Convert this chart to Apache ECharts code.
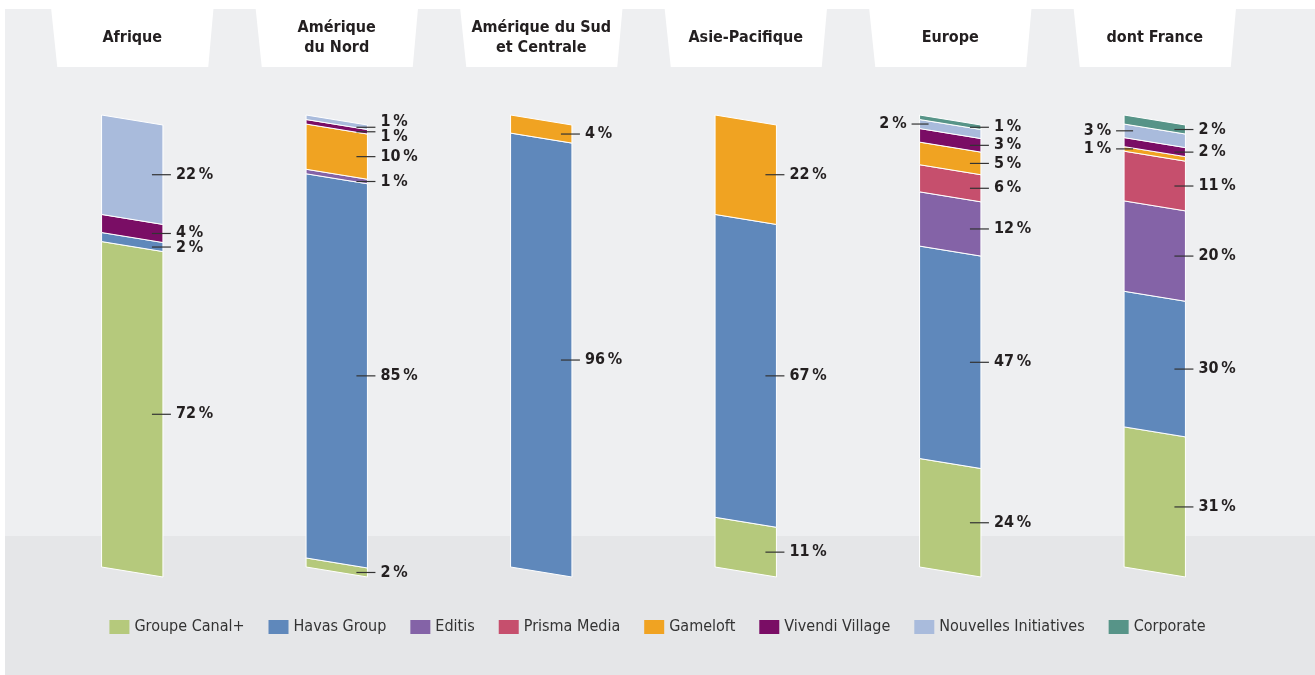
<!DOCTYPE html>
<html style="width:100%;height:100%">
<head>
    <meta charset="UTF-8">
    <title>Vivendi par zone</title>
    <script type="text/javascript" src="https://cdn.jsdelivr.net/npm/echarts@6/dist/echarts.min.js"></script>
</head>
<body style="margin:0;width:100%;height:100%;overflow:hidden">
    <div id="chart" style="width:1315px;height:675px"></div>

    <script type="text/javascript">
        // zones (columns)
        var zones = ['Afrique', 'Amérique\ndu Nord', 'Amérique du Sud\net Centrale', 'Asie-Pacifique', 'Europe', 'dont France'];

        // share of each business per zone, in %, stacked bottom -> top
        var canal = [72, 2, 0, 11, 24, 31];
        var havas = [2, 85, 96, 67, 47, 30];
        var editis = [0, 1, 0, 0, 12, 20];
        var prisma = [0, 0, 0, 0, 6, 11];
        var gameloft = [0, 10, 4, 22, 5, 1];
        var vivendiVillage = [4, 1, 0, 0, 3, 2];
        var nouvelles = [22, 1, 0, 0, 2, 3];
        var corporate = [0, 0, 0, 0, 1, 2];

        var names = ['Groupe Canal+', 'Havas Group', 'Editis', 'Prisma Media', 'Gameloft', 'Vivendi Village', 'Nouvelles Initiatives', 'Corporate'];
        var values = [canal, havas, editis, prisma, gameloft, vivendiVillage, nouvelles, corporate];
        var colors = ['#b5c97c', '#5f88bb', '#8463a7', '#c64f6d', '#f0a322', '#7a0d65', '#a9bbdc', '#579488'];

        // labels drawn on the left side of the column: [zone index, series index]
        var leftLabels = [[4, 6], [5, 6], [5, 4]];

        var W = 1315, H = 675;
        var gridLeft = 30, gridRight = 58, gridTop = 115, gridBottom = 108;
        var band = (W - gridLeft - gridRight) / zones.length;
        var skew = 10;
        var font = "'Liberation Sans Narrow', 'DejaVu Sans Condensed', 'Roboto Condensed', Roboto, sans-serif";

        function isLeft(z, s) {
            for (var i = 0; i < leftLabels.length; i++) {
                if (leftLabels[i][0] === z && leftLabels[i][1] === s) return true;
            }
            return false;
        }

        // stacked segments per series
        var segData = values.map(function (arr) {
            return arr.map(function (v, z) {
                var start = 0;
                for (var k = 0; values[k] !== arr; k++) start += values[k][z];
                return [z, start, start + v, v];
            });
        });

        function renderSegment(params, api) {
            var v = api.value(3);
            if (!v) return;
            var z = api.value(0);
            var top = api.coord([z, api.value(2)]);
            var bot = api.coord([z, api.value(1)]);
            var w = api.size([1, 0])[0] * 0.3;
            var L = top[0] - w / 2, R = top[0] + w / 2;
            return {
                type: 'polygon',
                shape: { points: [[L, top[1]], [R, top[1] + skew], [R, bot[1] + skew], [L, bot[1]]] },
                style: { fill: api.visual('color'), stroke: '#ffffff', lineWidth: 1 }
            };
        }

        function spread(list) {
            list.sort(function (a, b) { return a.y - b.y; });
            var gap = 15;
            for (var it = 0; it < 30; it++) {
                for (var i = 1; i < list.length; i++) {
                    var d = list[i].ty - list[i - 1].ty;
                    if (d < gap) {
                        var sh = (gap - d) / 2;
                        list[i - 1].ty -= sh;
                        list[i].ty += sh;
                    }
                }
            }
        }

        function renderLabels(params, api) {
            var z = api.value(0);
            var w = api.size([1, 0])[0] * 0.3;
            var cx = api.coord([z, 0])[0];
            var L = cx - w / 2, R = cx + w / 2;
            var right = [], left = [];
            var start = 0;
            values.forEach(function (arr, s) {
                var v = arr[z];
                if (!v) return;
                var y0 = api.coord([z, start])[1];
                var y1 = api.coord([z, start + v])[1];
                start += v;
                var item = { text: v + '\u2009%', y: (y0 + y1) / 2 };
                if (isLeft(z, s)) {
                    left.push(item);
                } else {
                    item.y += skew;
                    right.push(item);
                }
                item.ty = item.y;
            });
            spread(right);
            spread(left);
            var children = [];
            var lineStyle = { stroke: '#333333', lineWidth: 1.2 };
            var textStyle = function (t, x, y, align) {
                return {
                    text: t, x: x, y: y, align: align, verticalAlign: 'middle',
                    fill: '#231f20', fontSize: 16, fontWeight: 'bold', fontFamily: font
                };
            };
            right.forEach(function (it) {
                children.push({ type: 'line', shape: { x1: R - 11, y1: it.y, x2: R + 8, y2: it.y }, style: lineStyle });
                children.push({ type: 'text', style: textStyle(it.text, R + 13, it.ty, 'left') });
            });
            left.forEach(function (it) {
                children.push({ type: 'line', shape: { x1: L + 9, y1: it.y, x2: L - 8, y2: it.y }, style: lineStyle });
                children.push({ type: 'text', style: textStyle(it.text, L - 13, it.ty, 'right') });
            });
            return { type: 'group', children: children };
        }

        // background panels and header tabs
        var graphics = [
            { type: 'rect', z: -10, shape: { x: 5, y: 9, width: W - 5, height: H - 9 }, style: { fill: '#eeeff1' } },
            { type: 'rect', z: -10, shape: { x: 5, y: 536, width: W - 5, height: H - 536 }, style: { fill: '#e5e6e8' } }
        ];
        zones.forEach(function (n, i) {
            var c = gridLeft + band * (i + 0.5);
            graphics.push({
                type: 'polygon', z: -9,
                shape: { points: [[c - 82, 0], [c + 82, 0], [c + 76, 67], [c - 75, 67]] },
                style: { fill: '#ffffff' }
            });
        });

        var series = names.map(function (n, s) {
            return {
                type: 'custom',
                name: n,
                renderItem: renderSegment,
                encode: { x: 0, y: [1, 2] },
                data: segData[s],
                z: 2
            };
        });
        series.push({
            type: 'custom',
            name: 'labels',
            renderItem: renderLabels,
            encode: { x: 0, y: 0 },
            data: zones.map(function (n, i) { return [i]; }),
            silent: true,
            z: 5
        });

        var chart = echarts.init(document.getElementById('chart'));
        chart.setOption({
            backgroundColor: '#ffffff',
            animation: false,
            color: colors,
            graphic: graphics,
            grid: { left: gridLeft, right: gridRight, top: gridTop, bottom: gridBottom },
            xAxis: {
                type: 'category',
                data: zones,
                position: 'top',
                z: 10,
                axisLine: { show: false },
                axisTick: { show: false },
                axisLabel: {
                    margin: 77,
                    verticalAlign: 'middle',
                    interval: 0,
                    color: '#231f20',
                    fontSize: 16,
                    fontWeight: 'bold',
                    fontFamily: font,
                    lineHeight: 20
                }
            },
            yAxis: { type: 'value', min: 0, max: 100, show: false },
            legend: {
                data: names,
                left: 'center',
                top: 614,
                icon: 'rect',
                itemWidth: 20,
                itemHeight: 14,
                itemGap: 24,
                textStyle: { color: '#333333', fontSize: 16, fontFamily: font }
            },
            series: series
        });
    </script>
</body>
</html>
